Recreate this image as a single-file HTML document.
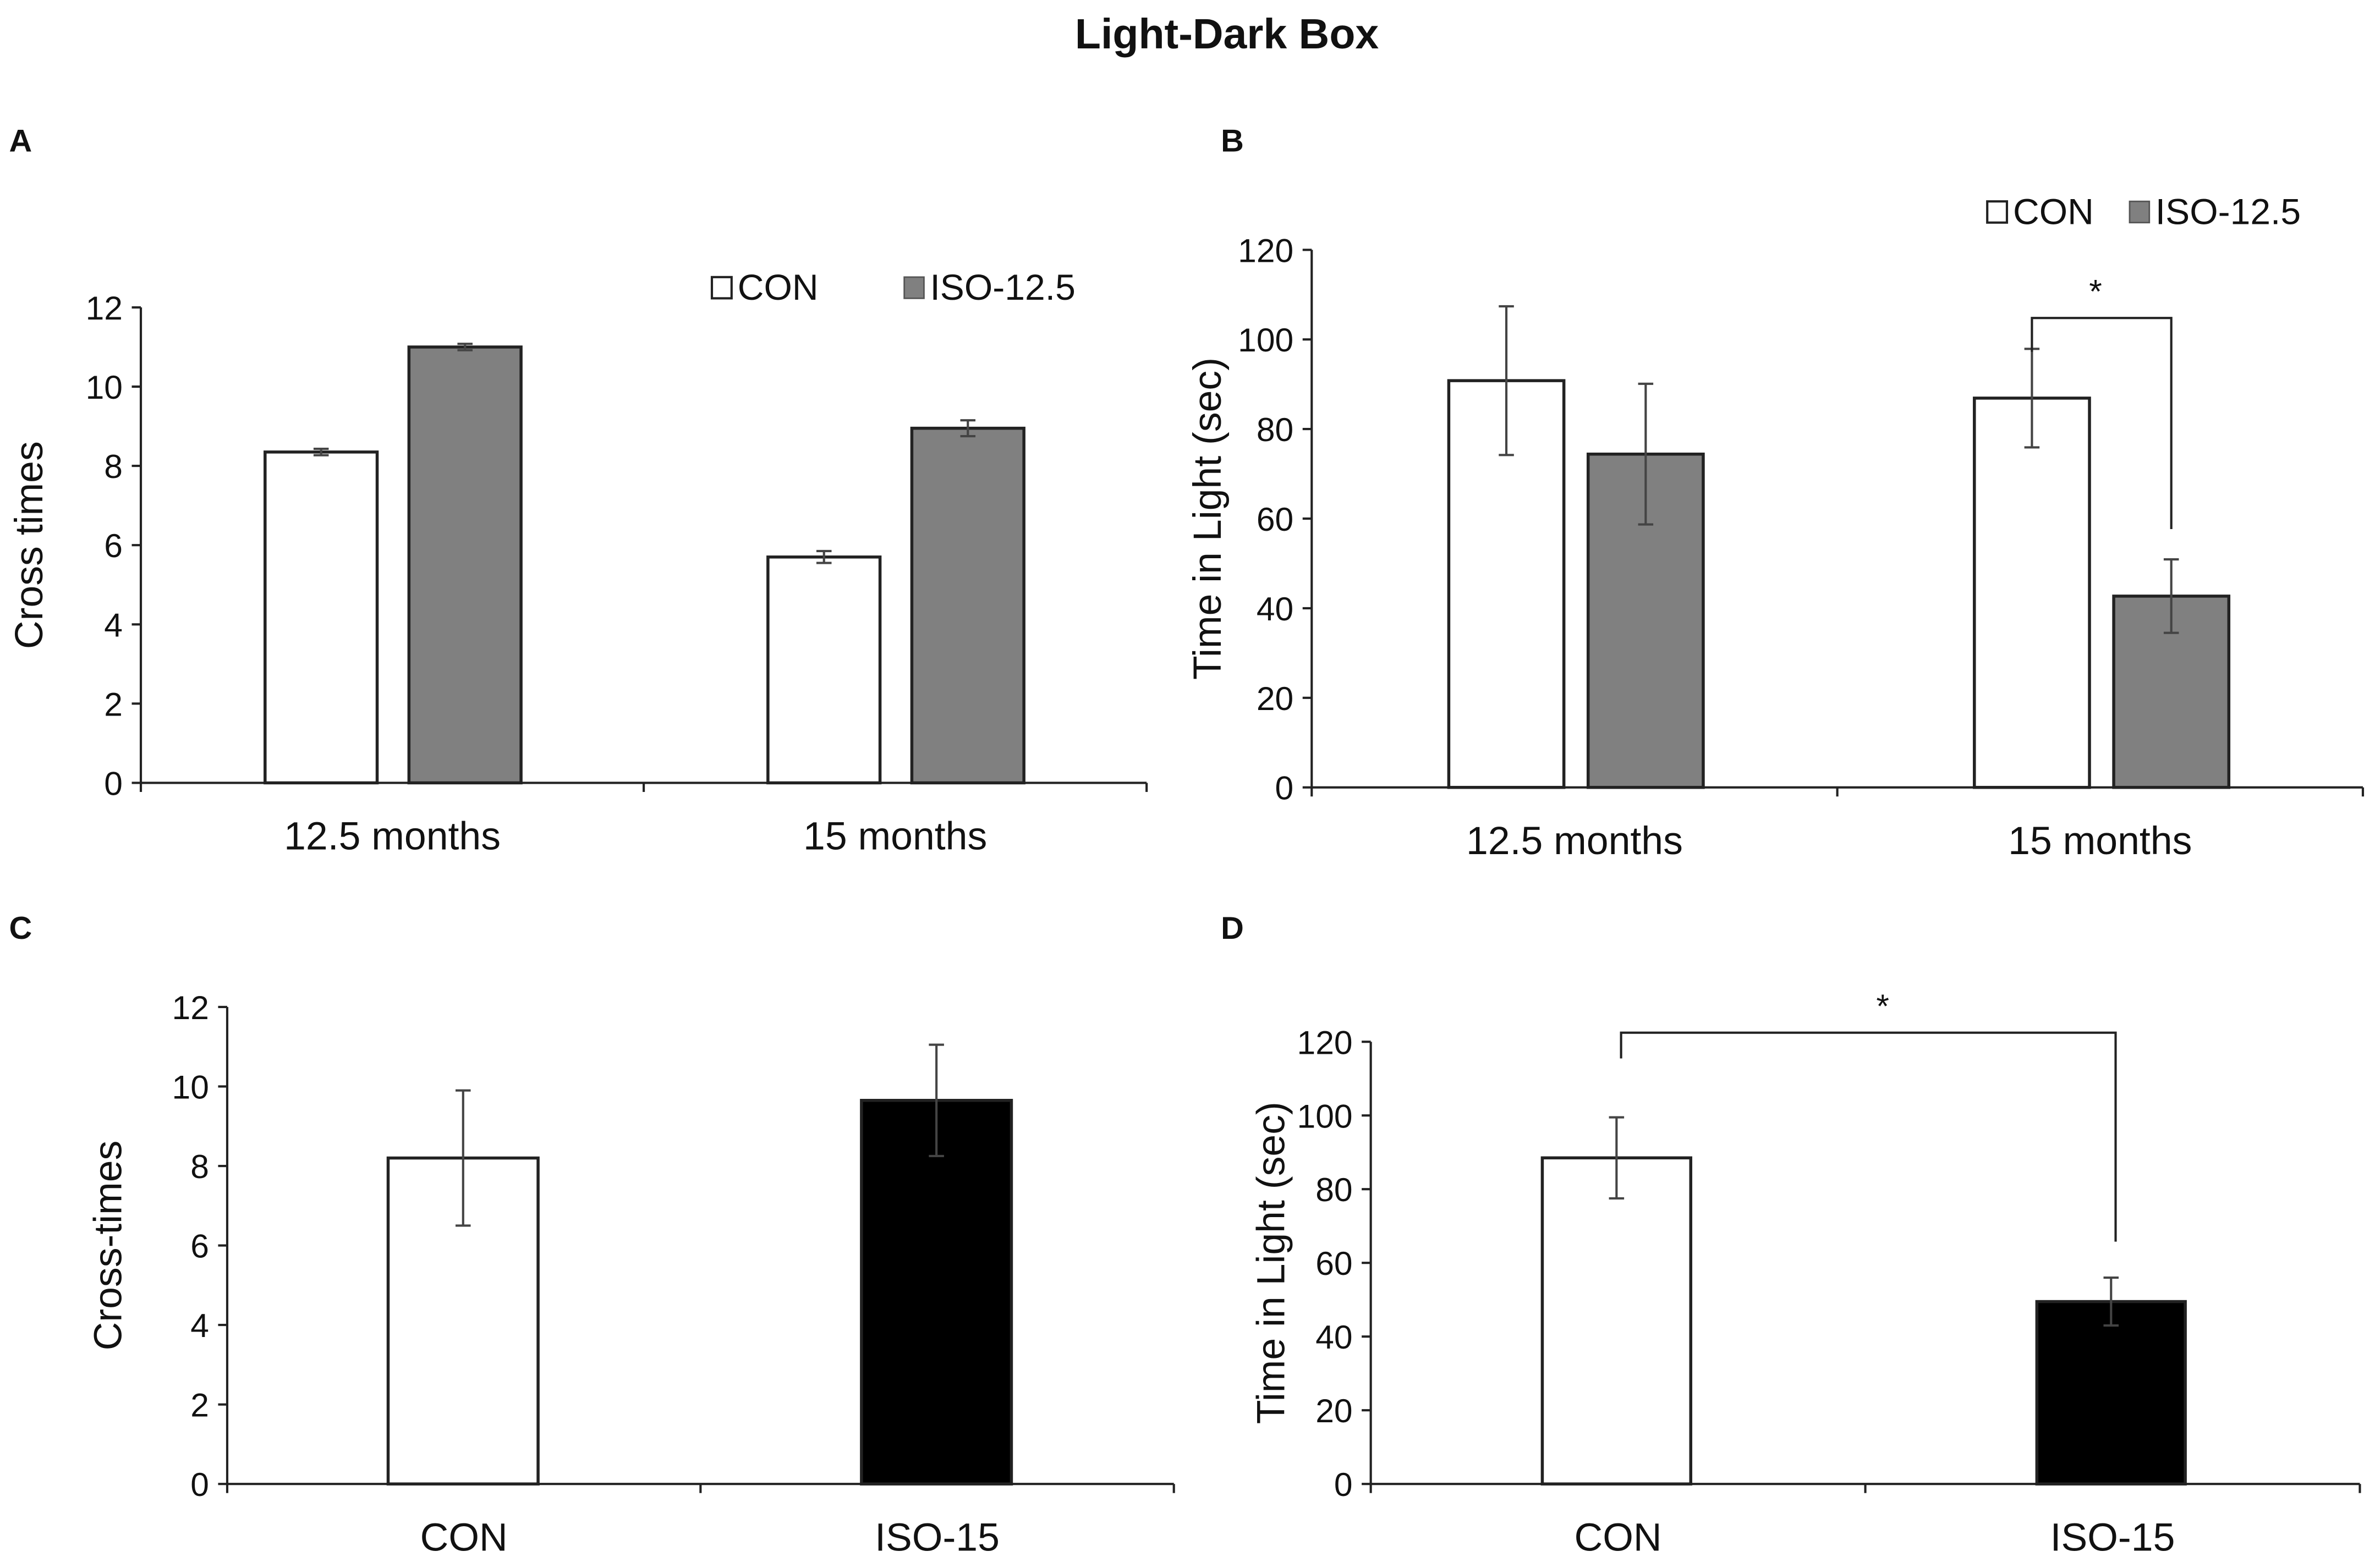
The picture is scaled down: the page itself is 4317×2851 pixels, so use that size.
<!DOCTYPE html>
<html><head><meta charset="utf-8"><style>
html,body{margin:0;padding:0;background:#fff}
svg{display:block}
text{font-family:"Liberation Sans",Arial,sans-serif;fill:#111}
</style></head><body>
<svg id="fig" width="4317" height="2851" viewBox="0 0 1568 1035.5" preserveAspectRatio="none" xmlns="http://www.w3.org/2000/svg">
<text x="810" y="32" text-anchor="middle" font-size="28" font-weight="bold">Light-Dark Box</text>
<text x="6" y="100" font-size="21" font-weight="bold">A</text>
<text x="806" y="100" font-size="21" font-weight="bold">B</text>
<text x="6" y="620" font-size="21" font-weight="bold">C</text>
<text x="806" y="620" font-size="21" font-weight="bold">D</text>
</svg>
<script>
const NS="http://www.w3.org/2000/svg";
const svg=document.getElementById('fig');
// Panel A data
const catsA=["12.5 months","15 months"];
const conA=[8.35,5.7], conErrA=[0.08,0.15];
const isoA=[11.0,8.95], isoErrA=[0.08,0.2];
const ticksA=[0,2,4,6,8,10,12];
// Panel B data
const catsB=["12.5 months","15 months"];
const conB=[90.8,86.9], conErrB=[16.6,11];
const isoB=[74.4,42.7], isoErrB=[15.7,8.2];
const ticksB=[0,20,40,60,80,100,120];
// Panel C data
const catsC=["CON","ISO-15"];
const valsC=[8.2,9.65], errC=[1.7,1.4];
const ticksC=[0,2,4,6,8,10,12];
// Panel D data
const catsD=["CON","ISO-15"];
const valsD=[88.5,49.5], errD=[11,6.5];
const ticksD=[0,20,40,60,80,100,120];

function el(tag,attrs,parent){const e=document.createElementNS(NS,tag);for(const k in attrs)e.setAttribute(k,attrs[k]);(parent||svg).appendChild(e);return e;}

function axes(p){
  const g=el('g',{});
  
  
  const y=v=>p.y0-(v-p.ticks[0])/(p.ticks[p.ticks.length-1]-p.ticks[0])*(p.y0-p.yTop);
  el('line',{x1:p.x0,y1:p.yTop,x2:p.x0,y2:p.y0,stroke:'#222','stroke-width':1.5},g);
  el('line',{x1:p.x0,y1:p.y0,x2:p.x1,y2:p.y0,stroke:'#222','stroke-width':1.5},g);
  p.ticks.forEach(t=>{
    el('line',{x1:p.x0-6,y1:y(t),x2:p.x0,y2:y(t),stroke:'#222','stroke-width':1.5},g);
    const tx=el('text',{x:p.x0-12,y:y(t)+8,'text-anchor':'end','font-size':22},g);
    
    
    tx.textContent=t;
  });
  const n=p.cats.length, w=(p.x1-p.x0)/n;
  for(let i=0;i<=n;i++) el('line',{x1:p.x0+i*w,y1:p.y0,x2:p.x0+i*w,y2:p.y0+6,stroke:'#222','stroke-width':1.5},g);
  p.cats.forEach((c,i)=>{
    const tx=el('text',{x:p.x0+(i+0.5)*w,y:p.y0+44,'text-anchor':'middle','font-size':26},g);
    
    
    tx.textContent=c;
  });
  const yt=el('text',{x:0,y:0,'text-anchor':'middle','font-size':26,transform:`translate(${p.titleX},${(p.y0+p.yTop)/2}) rotate(-90)`},g);
  
  
  yt.textContent=p.title;
  return {g,y,w};
}
function bar(g,y,x,bw,v,e,fill,name){
  const r=el('rect',{x:x,y:y(v),width:bw,height:y(0)-y(v),fill:fill,stroke:'#222','stroke-width':2},g);
  
  
  const cx=x+bw/2;
  const eb=el('g',{},g);
  
  
  el('line',{x1:cx,y1:y(v+e),x2:cx,y2:y(v-e),stroke:'#444','stroke-width':1.5},eb);
  el('line',{x1:cx-5,y1:y(v+e),x2:cx+5,y2:y(v+e),stroke:'#444','stroke-width':1.5},eb);
  el('line',{x1:cx-5,y1:y(v-e),x2:cx+5,y2:y(v-e),stroke:'#444','stroke-width':1.5},eb);
}
function legend(g,x1,x2,yy){
  const a=el('rect',{x:x1,y:yy-15,width:13,height:14,fill:'#fff',stroke:'#222','stroke-width':1.5},g);
  
  const t=el('text',{x:x1+17,y:yy,'font-size':24},g);t.textContent='CON';
  
  const b=el('rect',{x:x2,y:yy-15,width:13,height:14,fill:'#808080',stroke:'#555','stroke-width':1},g);
  
  const t2=el('text',{x:x2+17,y:yy,'font-size':24},g);t2.textContent='ISO-12.5';
  
}
function bracket(g,xa,ya,xb,yb,top,starX,name){
  const p=el('polyline',{points:`${xa},${ya} ${xa},${top} ${xb},${top} ${xb},${yb}`,fill:'none',stroke:'#222','stroke-width':1.5},g);
  
  const s=el('text',{x:starX,y:top-10,'text-anchor':'middle','font-size':22},g);s.textContent='*';
  
}

// A
let A=axes({name:'panel-a-chart',x0:93,x1:757,y0:517,yTop:203,ticks:ticksA,cats:catsA,title:'Cross times',titleX:28});
catsA.forEach((c,i)=>{const cx=93+(i+0.5)*A.w;
  bar(A.g,A.y,cx-84,74,conA[i],conErrA[i],'#fff','bar-con-'+i);
  bar(A.g,A.y,cx+11,74,isoA[i],isoErrA[i],'#808080','bar-iso-'+i);});
legend(A.g,470,597,198);
// B
let B=axes({name:'panel-b-chart',x0:866,x1:1560,y0:520,yTop:165,ticks:ticksB,cats:catsB,title:'Time in Light  (sec)',titleX:806});
catsB.forEach((c,i)=>{const cx=866+(i+0.5)*B.w;
  bar(B.g,B.y,cx-83,76,conB[i],conErrB[i],'#fff','bar-con-'+i);
  bar(B.g,B.y,cx+9,76,isoB[i],isoErrB[i],'#808080','bar-iso-'+i);});
legend(B.g,1312,1406,148);
{const cx=866+1.5*B.w;
 bracket(B.g,cx-45,B.y(conB[1]+conErrB[1])+2,cx+47,B.y(isoB[1]+isoErrB[1])-20,210,cx-3,'significance-bracket');}
// C
let C=axes({name:'panel-c-chart',x0:150,x1:775,y0:980,yTop:665,ticks:ticksC,cats:catsC,title:'Cross-times',titleX:80});
catsC.forEach((c,i)=>{const cx=150+(i+0.5)*C.w;
  bar(C.g,C.y,cx-50,99,valsC[i],errC[i],i?'#000':'#fff','bar-'+c.toLowerCase());});
// D
let D=axes({name:'panel-d-chart',x0:905,x1:1558,y0:980,yTop:688,ticks:ticksD,cats:catsD,title:'Time in Light  (sec)',titleX:848});
catsD.forEach((c,i)=>{const cx=905+(i+0.5)*D.w;
  bar(D.g,D.y,cx-50,98,valsD[i],errD[i],i?'#000':'#fff','bar-'+c.toLowerCase());});
{const c0=905+0.5*D.w,c1=905+1.5*D.w;
 bracket(D.g,c0+2,699,c1+2,820,682,1243,'significance-bracket');}
</script>
</body></html>
